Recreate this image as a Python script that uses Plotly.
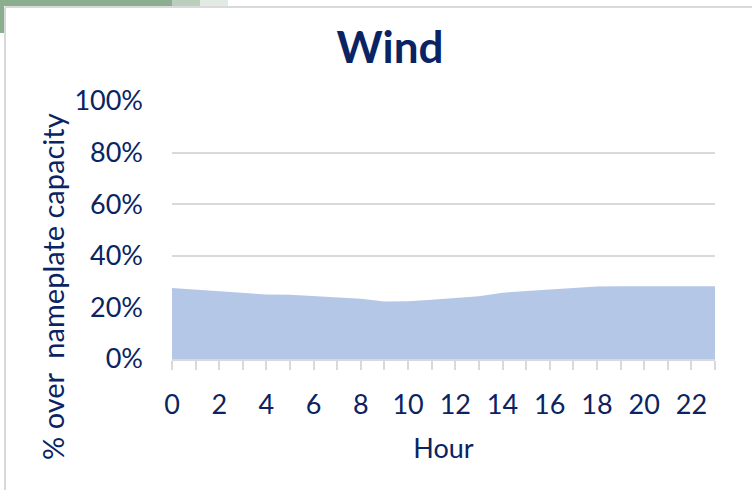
import plotly.graph_objects as go

W, H = 752, 490

hours = list(range(24))
wind_share = [0.275, 0.269, 0.262, 0.256, 0.250, 0.249, 0.244, 0.241, 0.234, 0.223,
              0.224, 0.230, 0.236, 0.243, 0.257, 0.264, 0.269, 0.275, 0.281, 0.282,
              0.282, 0.282, 0.282, 0.282]
x_tick_labels = [str(h) if h % 2 == 0 else "" for h in hours]
y_tick_values = [0, 0.2, 0.4, 0.6, 0.8, 1.0]

NAVY = "#0A2463"
GRID = "#D9D9D9"
FONT = "Lato, 'Open Sans', sans-serif"

def px(x):
    return x / W

def py(y):
    return 1 - y / H

fig = go.Figure()
fig.add_trace(go.Scatter(
    x=hours, y=wind_share, mode="lines", fill="tozeroy",
    line=dict(width=0, color="#B4C7E7"), fillcolor="#B4C7E7",
    hoverinfo="x+y", showlegend=False,
))

shapes = [
    # green accent top-left
    dict(type="rect", xref="paper", yref="paper", x0=px(0), x1=px(172), y0=py(6), y1=py(0),
         fillcolor="#8BAE8F", line=dict(width=0), layer="above"),
    dict(type="rect", xref="paper", yref="paper", x0=px(172), x1=px(200), y0=py(6), y1=py(0),
         fillcolor="#8BAE8F", opacity=0.6, line=dict(width=0), layer="above"),
    dict(type="rect", xref="paper", yref="paper", x0=px(200), x1=px(228), y0=py(6), y1=py(0),
         fillcolor="#8BAE8F", opacity=0.25, line=dict(width=0), layer="above"),
    dict(type="rect", xref="paper", yref="paper", x0=px(0), x1=px(4), y0=py(33), y1=py(0),
         fillcolor="#8BAE8F", line=dict(width=0), layer="above"),
    # gray chart frame
    dict(type="line", xref="paper", yref="paper", x0=px(5), x1=px(5), y0=py(7), y1=py(490),
         line=dict(color=GRID, width=2), layer="above"),
    dict(type="line", xref="paper", yref="paper", x0=px(5), x1=px(752), y0=py(7), y1=py(7),
         line=dict(color=GRID, width=2), layer="above"),
]

annotations = [
    dict(text="% over  nameplate capacity", textangle=-90, xref="paper", yref="paper",
         x=px(52), y=py(287), xanchor="center", yanchor="middle", showarrow=False,
         font=dict(family=FONT, size=29, color=NAVY)),
]

fig.update_layout(
    width=W, height=H,
    margin=dict(l=0, r=0, t=0, b=0),
    paper_bgcolor="white", plot_bgcolor="white",
    font=dict(family=FONT, color=NAVY, size=27),
    title=dict(text="<b>Wind</b>", x=px(390), xanchor="center", y=py(48), yanchor="middle",
               font=dict(family=FONT, size=44, color=NAVY)),
    shapes=shapes,
    annotations=annotations,
    xaxis=dict(
        domain=[px(172), px(715)], range=[0, 23], tickmode="array",
        tickvals=hours, ticktext=x_tick_labels, ticks="outside", ticklen=9,
        tickcolor=GRID, tickwidth=1.5, showline=True, linecolor=GRID, linewidth=2,
        showgrid=False, zeroline=False, automargin=False, ticklabelstandoff=12,
        tickfont=dict(size=27, color=NAVY),
        title=dict(text="Hour", standoff=20, font=dict(size=27, color=NAVY)),
    ),
    yaxis=dict(
        domain=[py(359), py(101)], range=[0, 1], tickmode="array", tickvals=y_tick_values,
        tickformat=".0%", showgrid=True, gridcolor=GRID, gridwidth=1.5, zeroline=False,
        showline=False, ticks="", automargin=False, ticklabelstandoff=28,
        tickfont=dict(size=27, color=NAVY),
    ),
)

fig.write_html("out.html", config={"displayModeBar": False},
               post_script="document.body.style.margin='0';document.body.style.overflow='hidden';")
